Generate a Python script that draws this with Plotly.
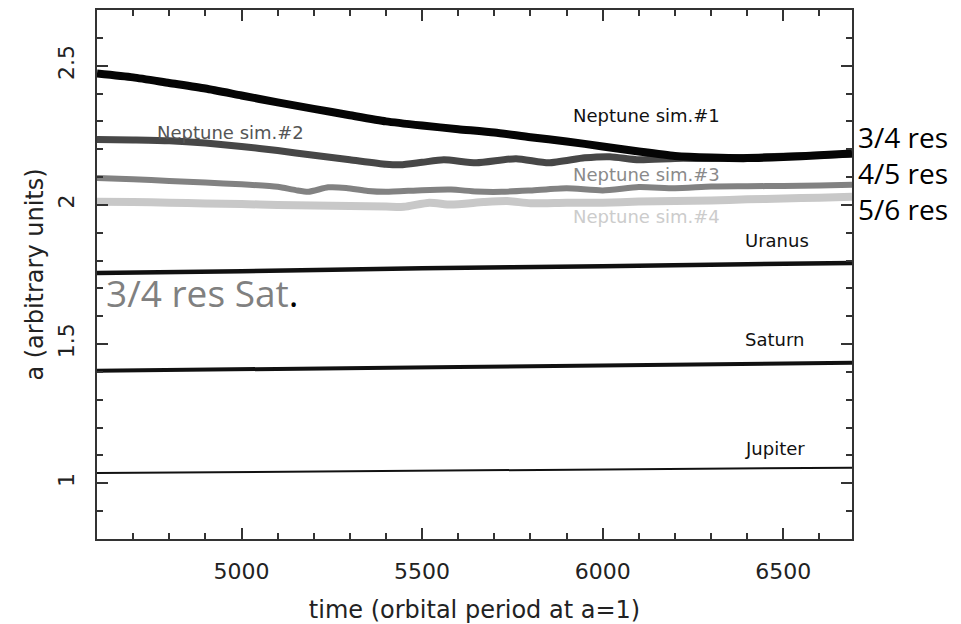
import plotly.graph_objects as go

# Semi-major axis evolution of the outer planets (arbitrary units)
t_nep1 = [4600, 4700, 4800, 4900, 5000, 5100, 5200, 5300, 5400, 5500, 5600,
          5700, 5800, 5900, 6000, 6100, 6200, 6300, 6400, 6500, 6600, 6690]
a_nep1 = [2.472, 2.458, 2.438, 2.418, 2.393, 2.368, 2.345, 2.322, 2.300, 2.285, 2.272,
          2.260, 2.243, 2.228, 2.210, 2.192, 2.176, 2.170, 2.168, 2.172, 2.178, 2.185]

t_nep2 = [4600, 4700, 4800, 4900, 5000, 5100, 5200, 5300, 5400, 5440, 5500, 5560,
          5650, 5760, 5850, 5950, 6020, 6100, 6200, 6300, 6400, 6500, 6600, 6690]
a_nep2 = [2.235, 2.233, 2.230, 2.222, 2.210, 2.195, 2.178, 2.162, 2.146, 2.144, 2.153, 2.162,
          2.151, 2.166, 2.151, 2.169, 2.173, 2.162, 2.167, 2.167, 2.170, 2.175, 2.178, 2.183]

t_nep3 = [4600, 4700, 4800, 4900, 5000, 5100, 5150, 5185, 5240, 5290, 5350, 5400, 5500,
          5580, 5650, 5720, 5800, 5900, 6000, 6100, 6200, 6300, 6400, 6500, 6600, 6690]
a_nep3 = [2.097, 2.092, 2.086, 2.080, 2.074, 2.065, 2.053, 2.047, 2.063, 2.061, 2.050, 2.047, 2.053,
          2.055, 2.048, 2.047, 2.052, 2.060, 2.052, 2.064, 2.060, 2.066, 2.067, 2.068, 2.070, 2.072]

t_nep4 = [4600, 4700, 4800, 4900, 5000, 5100, 5200, 5300, 5400, 5450, 5520, 5580, 5670,
          5735, 5800, 5900, 6000, 6100, 6200, 6300, 6400, 6500, 6600, 6690]
a_nep4 = [2.011, 2.010, 2.008, 2.005, 2.003, 2.000, 1.998, 1.996, 1.994, 1.993, 2.008, 2.001, 2.010,
          2.014, 2.006, 2.008, 2.008, 2.012, 2.014, 2.016, 2.020, 2.023, 2.026, 2.029]

t_uranus = [4600, 5000, 5500, 6000, 6400, 6690]
a_uranus = [1.755, 1.762, 1.772, 1.780, 1.787, 1.791]

t_saturn = [4600, 5600, 6690]
a_saturn = [1.404, 1.418, 1.433]

t_jupiter = [4600, 6690]
a_jupiter = [1.037, 1.056]

# (name, times, values, colour, width)
series = [
    ("Jupiter", t_jupiter, a_jupiter, "#111111", 2),
    ("Saturn", t_saturn, a_saturn, "#111111", 4),
    ("Uranus", t_uranus, a_uranus, "#111111", 4.5),
    ("Neptune sim.#4", t_nep4, a_nep4, "#c8c8c8", 8),
    ("Neptune sim.#3", t_nep3, a_nep3, "#828282", 6),
    ("Neptune sim.#2", t_nep2, a_nep2, "#474747", 7),
    ("Neptune sim.#1", t_nep1, a_nep1, "#050505", 8),
]

# Inline labels: (text, time, a, colour)
labels = [
    ("Neptune sim.#1", 5912, 2.322, "#111111"),
    ("Neptune sim.#2", 4761, 2.261, "#555555"),
    ("Neptune sim.#3", 5912, 2.110, "#8a8a8a"),
    ("Neptune sim.#4", 5912, 1.959, "#cccccc"),
    ("Uranus", 6388, 1.873, "#111111"),
    ("Saturn", 6388, 1.517, "#111111"),
    ("Jupiter", 6388, 1.124, "#111111"),
]

res_labels = ["3/4 res", "4/5 res", "5/6 res"]
res_y_px = [137, 173, 209]

FIG_W, FIG_H = 961, 624
M_L, M_R, M_T, M_B = 97, 109, 10, 85

fig = go.Figure()
for name, t, a, col, w in series:
    fig.add_trace(go.Scatter(x=t, y=a, mode="lines", name=name,
                             line=dict(color=col, width=w, shape="spline", smoothing=0.6),
                             showlegend=False))

for text, tx, ay, col in labels:
    fig.add_annotation(x=tx, y=ay, xref="x", yref="y", text=text, showarrow=False,
                       xanchor="left", yanchor="middle",
                       font=dict(family="DejaVu Sans", size=18, color=col))

plot_h = FIG_H - M_T - M_B
plot_w = FIG_W - M_L - M_R
for text, py in zip(res_labels, res_y_px):
    fig.add_annotation(x=(856 - M_L) / plot_w, y=1 - (py - M_T) / plot_h,
                       xref="paper", yref="paper", text=text, showarrow=False,
                       xanchor="left", yanchor="middle",
                       font=dict(family="Open Sans", size=28, color="#000000"))

fig.add_annotation(x=(104 - M_L) / plot_w, y=1 - (292 - M_T) / plot_h,
                   xref="paper", yref="paper",
                   text='3/4 res Sat<span style="color:#000000">.</span>',
                   showarrow=False, xanchor="left", yanchor="middle",
                   font=dict(family="Open Sans", size=37, color="#808080"))

axis_common = dict(
    showline=True, linecolor="#333333", linewidth=2, mirror="ticks",
    ticks="inside", ticklen=11, tickwidth=2, tickcolor="#333333",
    showgrid=False, zeroline=False, automargin=False,
    tickfont=dict(family="DejaVu Sans", size=22, color="#222222"),
    title_font=dict(family="DejaVu Sans", size=24, color="#222222"),
)

fig.update_xaxes(range=[4600, 6690], tick0=5000, dtick=500,
                 minor=dict(ticks="inside", dtick=100, tick0=5000, ticklen=6,
                            tickwidth=2, tickcolor="#333333"),
                 ticklabelstandoff=12,
                 title=dict(text="time (orbital period at a=1)", standoff=22),
                 **axis_common)
fig.update_yaxes(range=[0.8, 2.7], tick0=1, dtick=0.5, tickangle=-90,
                 minor=dict(ticks="inside", dtick=0.1, tick0=1, ticklen=6,
                            tickwidth=2, tickcolor="#333333"),
                 ticklabelstandoff=12,
                 title=dict(text="a (arbitrary units)", standoff=4),
                 **axis_common)

fig.update_layout(width=FIG_W, height=FIG_H, autosize=False,
                  margin=dict(l=M_L, r=M_R, t=M_T, b=M_B),
                  paper_bgcolor="white", plot_bgcolor="white",
                  template="none")

fig.write_html("out.html")
